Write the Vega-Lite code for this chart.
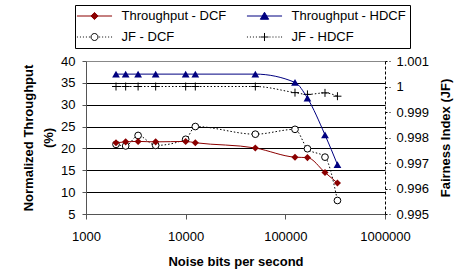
{
  "$schema": "https://vega.github.io/schema/vega-lite/v6.json",
  "width": 299,
  "height": 153,
  "autosize": {"type": "none"},
  "padding": {"left": 86, "top": 61, "right": 71, "bottom": 66},
  "background": "white",
  "config": {
    "view": {"stroke": null},
    "font": "Liberation Sans",
    "axis": {"labelFont": "Liberation Sans", "labelFontSize": 13, "labelColor": "black", "titleFont": "Liberation Sans", "titleFontSize": 13, "titleFontWeight": "bold", "titleColor": "black"},
    "legend": {"orient": "none", "legendX": -11, "legendY": -56, "columns": 2, "direction": "horizontal", "title": null, "strokeColor": "black", "fillColor": "white", "padding": 4, "labelFont": "Liberation Sans", "labelFontSize": 13, "labelColor": "black", "labelOffset": 20, "symbolOffset": 8.5, "labelLimit": 0, "columnPadding": 17, "rowPadding": 7, "symbolSize": 169, "symbolStrokeWidth": 1, "symbolOpacity": 1}
  },
  "datasets": {
    "tp": [
      {"x": 2000, "series": "Throughput - DCF", "v": 21.3},
      {"x": 2500, "series": "Throughput - DCF", "v": 21.5},
      {"x": 3333, "series": "Throughput - DCF", "v": 21.6},
      {"x": 5000, "series": "Throughput - DCF", "v": 21.5},
      {"x": 10000, "series": "Throughput - DCF", "v": 21.6},
      {"x": 12500, "series": "Throughput - DCF", "v": 21.3},
      {"x": 50000, "series": "Throughput - DCF", "v": 20.1},
      {"x": 125000, "series": "Throughput - DCF", "v": 18.0},
      {"x": 166667, "series": "Throughput - DCF", "v": 17.9},
      {"x": 250000, "series": "Throughput - DCF", "v": 14.5},
      {"x": 333333, "series": "Throughput - DCF", "v": 12.1},
      {"x": 2000, "series": "Throughput - HDCF", "v": 37},
      {"x": 2500, "series": "Throughput - HDCF", "v": 37},
      {"x": 3333, "series": "Throughput - HDCF", "v": 37},
      {"x": 5000, "series": "Throughput - HDCF", "v": 37},
      {"x": 10000, "series": "Throughput - HDCF", "v": 37},
      {"x": 12500, "series": "Throughput - HDCF", "v": 37},
      {"x": 50000, "series": "Throughput - HDCF", "v": 37},
      {"x": 125000, "series": "Throughput - HDCF", "v": 35.1},
      {"x": 166667, "series": "Throughput - HDCF", "v": 31.5},
      {"x": 250000, "series": "Throughput - HDCF", "v": 23.1},
      {"x": 333333, "series": "Throughput - HDCF", "v": 16.3}
    ],
    "jf": [
      {"x": 2000, "series": "JF - DCF", "v": 0.99773},
      {"x": 2500, "series": "JF - DCF", "v": 0.99767},
      {"x": 3333, "series": "JF - DCF", "v": 0.99808},
      {"x": 5000, "series": "JF - DCF", "v": 0.99769},
      {"x": 10000, "series": "JF - DCF", "v": 0.99793},
      {"x": 12500, "series": "JF - DCF", "v": 0.99843},
      {"x": 50000, "series": "JF - DCF", "v": 0.99813},
      {"x": 125000, "series": "JF - DCF", "v": 0.99832},
      {"x": 166667, "series": "JF - DCF", "v": 0.99756},
      {"x": 250000, "series": "JF - DCF", "v": 0.99723},
      {"x": 333333, "series": "JF - DCF", "v": 0.99553},
      {"x": 2000, "series": "JF - HDCF", "v": 1.0},
      {"x": 2500, "series": "JF - HDCF", "v": 1.0},
      {"x": 3333, "series": "JF - HDCF", "v": 1.0},
      {"x": 5000, "series": "JF - HDCF", "v": 1.0},
      {"x": 10000, "series": "JF - HDCF", "v": 1.0},
      {"x": 12500, "series": "JF - HDCF", "v": 1.0},
      {"x": 50000, "series": "JF - HDCF", "v": 1.0},
      {"x": 125000, "series": "JF - HDCF", "v": 0.99976},
      {"x": 166667, "series": "JF - HDCF", "v": 0.99969},
      {"x": 250000, "series": "JF - HDCF", "v": 0.99975},
      {"x": 333333, "series": "JF - HDCF", "v": 0.99962}
    ]
  },
  "encoding": {
    "x": {
      "field": "x", "type": "quantitative",
      "scale": {"type": "log", "domain": [1000, 1000000], "nice": false},
      "axis": {"values": [1000, 10000, 100000, 1000000], "format": "d", "title": "Noise bits per second", "grid": false, "domainColor": "#555555", "tickColor": "#555555", "tickSize": 5, "labelPadding": 11, "labelFlush": false, "titleY": 47, "titleBaseline": "middle"}
    }
  },
  "layer": [
    {
      "data": {"name": "jf"},
      "encoding": {
        "y": {
          "field": "v", "type": "quantitative",
          "scale": {"domain": [0.995, 1.00100001], "nice": false, "zero": false},
          "axis": {"orient": "right", "values": [0.995, 0.996, 0.997, 0.998, 0.999, 1, 1.001], "format": "~g", "labelOverlap": false, "title": "Fairness Index (JF)", "grid": false, "domainColor": "black", "domainDash": [3, 2], "tickColor": "black", "tickDash": [2, 2], "tickSize": 5, "labelPadding": 6, "titleAngle": -90, "titleX": 60, "titleY": 76.5, "titleBaseline": "middle", "titleAlign": "center"}
        }
      },
      "layer": [
        {
          "mark": {"type": "line", "interpolate": "monotone", "strokeWidth": 1, "strokeDash": [1.5, 2], "color": "black"},
          "encoding": {"detail": {"field": "series", "type": "nominal"}}
        },
        {
          "transform": [{"filter": "datum.series === 'JF - DCF'"}],
          "mark": {"type": "point", "shape": "circle", "size": 45, "filled": false, "fill": "white", "stroke": "black", "opacity": 1, "strokeWidth": 1},
          "encoding": {}
        },
        {
          "transform": [{"filter": "datum.series === 'JF - HDCF'"}],
          "mark": {"type": "point", "shape": "M-1,0H1M0,-1V1", "size": 64, "filled": false, "stroke": "black", "opacity": 1, "strokeWidth": 1},
          "encoding": {}
        }
      ]
    },
    {
      "data": {"name": "tp"},
      "encoding": {
        "y": {
          "field": "v", "type": "quantitative",
          "scale": {"domain": [5, 40], "nice": false, "zero": false},
          "axis": {"orient": "left", "values": [5, 10, 15, 20, 25, 30, 35, 40], "title": ["Normalized Throughput", "(%)"], "grid": true, "gridColor": {"condition": {"test": "datum.value === 40", "value": "#888888"}, "value": "#000000"}, "gridWidth": 1, "domainColor": "#555555", "tickColor": "#555555", "tickSize": 4, "labelPadding": 7, "titleAngle": -90, "titleX": -58, "titleY": 76.5, "titleBaseline": "middle", "titleAlign": "center", "titleLineHeight": 20}
        }
      },
      "layer": [
        {
          "mark": {"type": "line", "interpolate": "monotone", "strokeWidth": 1},
          "encoding": {
            "color": {"field": "series", "type": "nominal", "scale": {"domain": ["Throughput - DCF", "Throughput - HDCF"], "range": ["#8b0000", "#000080"]}, "legend": null}
          }
        },
        {
          "transform": [{"filter": "datum.series === 'Throughput - DCF'"}],
          "mark": {"type": "point", "shape": "diamond", "size": 50, "filled": true, "color": "#8b0000", "opacity": 1},
          "encoding": {}
        },
        {
          "transform": [{"filter": "datum.series === 'Throughput - HDCF'"}],
          "mark": {"type": "point", "shape": "triangle-up", "size": 60, "filled": true, "color": "#000080", "opacity": 1},
          "encoding": {}
        },
        {
          "mark": {"type": "point", "opacity": 0, "size": 169, "strokeWidth": 1},
          "encoding": {
            "shape": {"field": "series", "type": "nominal", "scale": {"domain": ["Throughput - DCF", "Throughput - HDCF", "JF - DCF", "JF - HDCF"], "range": [
              "M-2.7,0H2.7M0,-0.55L0.55,0L0,0.55L-0.55,0Z",
              "M-2.7,0H2.7M0,-0.58L0.64,0.5L-0.64,0.5Z",
              "M-2.7,0h0.15M-2.24,0h0.15M-1.78,0h0.15M-1.32,0h0.15M-0.86,0h0.15M0.54,0A0.54,0.54,0,1,1,-0.54,0A0.54,0.54,0,1,1,0.54,0ZM0.72,0h0.15M1.18,0h0.15M1.64,0h0.15M2.1,0h0.15M2.55,0h0.15",
              "M-2.7,0h0.15M-2.24,0h0.15M-1.78,0h0.15M-1.32,0h0.15M-0.86,0h0.15M-0.62,0H0.62M0,-0.62V0.62M0.77,0h0.15M1.23,0h0.15M1.69,0h0.15M2.15,0h0.15M2.55,0h0.15"
            ]}, "legend": {"symbolOpacity": 1}},
            "fill": {"field": "series", "type": "nominal", "scale": {"domain": ["Throughput - DCF", "Throughput - HDCF", "JF - DCF", "JF - HDCF"], "range": ["#8b0000", "#000080", "#ffffff", "transparent"]}, "legend": {"symbolOpacity": 1}},
            "stroke": {"field": "series", "type": "nominal", "scale": {"domain": ["Throughput - DCF", "Throughput - HDCF", "JF - DCF", "JF - HDCF"], "range": ["#8b0000", "#000080", "#000000", "#000000"]}, "legend": {"symbolOpacity": 1}}
          }
        }
      ]
    }
  ],
  "resolve": {"scale": {"y": "independent"}}
}
